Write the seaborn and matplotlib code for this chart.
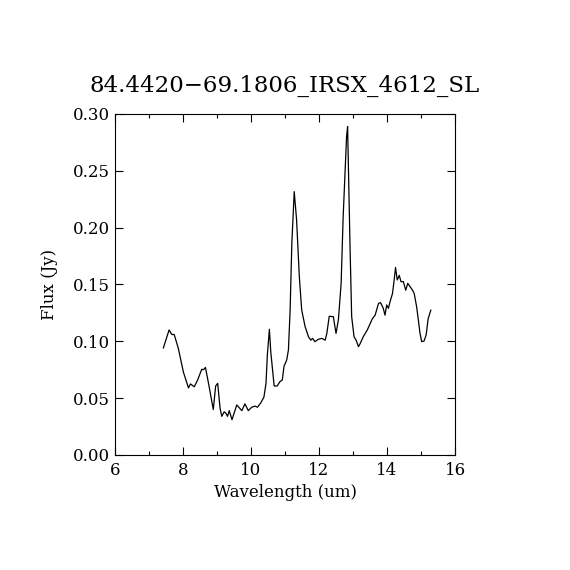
import matplotlib
matplotlib.use("Agg")
import matplotlib.pyplot as plt
from matplotlib.ticker import MultipleLocator
import seaborn as sns
import pandas as pd

title = "84.4420\u221269.1806_IRSX_4612_SL"
x_label = "Wavelength (um)"
y_label = "Flux (Jy)"

wavelength = [7.42, 7.59, 7.67, 7.74, 7.86, 8.01, 8.16, 8.22, 8.33, 8.43, 8.55, 8.60, 8.66,
              8.75, 8.89, 8.96, 9.02, 9.09, 9.14, 9.21, 9.26, 9.31, 9.36, 9.44, 9.58, 9.73,
              9.82, 9.92, 10.02, 10.12, 10.19, 10.29, 10.38, 10.44, 10.48, 10.54, 10.58,
              10.68, 10.77, 10.85, 10.92, 10.97, 11.05, 11.10, 11.15, 11.20, 11.27, 11.34,
              11.42, 11.49, 11.59, 11.69, 11.76, 11.81, 11.88, 11.98, 12.08, 12.18, 12.23,
              12.30, 12.42, 12.50, 12.57, 12.65, 12.71, 12.76, 12.81, 12.84, 12.86, 12.91,
              12.96, 13.03, 13.09, 13.16, 13.21, 13.30, 13.42, 13.57, 13.65, 13.75, 13.81,
              13.89, 13.94, 13.99, 14.04, 14.09, 14.16, 14.21, 14.25, 14.30, 14.36, 14.41,
              14.48, 14.55, 14.61, 14.68, 14.75, 14.80, 14.87, 14.92, 14.97, 15.02, 15.09,
              15.15, 15.21, 15.29]
flux = [0.094, 0.110, 0.106, 0.106, 0.094, 0.073, 0.059, 0.0625, 0.060, 0.066, 0.0754, 0.075,
        0.077, 0.063, 0.040, 0.0607, 0.063, 0.041, 0.034, 0.038, 0.0367, 0.034, 0.039, 0.031,
        0.044, 0.039, 0.045, 0.039, 0.042, 0.043, 0.042, 0.046, 0.051, 0.063, 0.088, 0.1106,
        0.091, 0.0607, 0.0607, 0.0645, 0.066, 0.078, 0.0836, 0.0924, 0.1276, 0.186, 0.2317,
        0.207, 0.157, 0.1276, 0.113, 0.104, 0.101, 0.1026, 0.0997, 0.1018, 0.1026, 0.101,
        0.107, 0.122, 0.1217, 0.107, 0.119, 0.151, 0.2097, 0.245, 0.280, 0.289, 0.2595,
        0.186, 0.1217, 0.104, 0.101, 0.0953, 0.098, 0.104, 0.110, 0.120, 0.123, 0.1334,
        0.134, 0.129, 0.123, 0.132, 0.129, 0.135, 0.142, 0.154, 0.165, 0.154, 0.158, 0.1525,
        0.1525, 0.145, 0.151, 0.148, 0.145, 0.142, 0.1305, 0.119, 0.107, 0.0997, 0.1003,
        0.1056, 0.120, 0.1276]

sns.set_style("ticks")
plt.rcParams['font.family'] = ['DejaVu Serif']
plt.rcParams['text.color'] = 'black'
plt.rcParams['axes.labelcolor'] = 'black'

df = pd.DataFrame({"wavelength": wavelength, "flux": flux})

fig = plt.figure(figsize=(5.7, 5.7), dpi=100)
ax = fig.add_axes([0.2018, 0.2018, 0.5965, 0.5982])
sns.lineplot(data=df, x="wavelength", y="flux", ax=ax, color="black", linewidth=0.9,
             sort=False, estimator=None)

ax.set_xlim(6, 16)
ax.set_ylim(0, 0.30)
ax.xaxis.set_major_locator(MultipleLocator(2))
ax.xaxis.set_minor_locator(MultipleLocator(1))
ax.yaxis.set_major_locator(MultipleLocator(0.05))
ax.xaxis.set_major_formatter(matplotlib.ticker.FormatStrFormatter("%d"))
ax.yaxis.set_major_formatter(matplotlib.ticker.FormatStrFormatter("%.2f"))
ax.tick_params(which="both", direction="in", top=True, right=True, colors="black",
               labelsize=12, width=0.8)
ax.tick_params(which="major", length=6)
ax.tick_params(which="minor", length=3)
ax.tick_params(axis="x", pad=5)
for s in ax.spines.values():
    s.set_color("black")
    s.set_linewidth(0.8)

ax.set_xlabel(x_label, fontsize=12, labelpad=4, color="black")
ax.set_ylabel(y_label, fontsize=12, labelpad=11, color="black")
ax.set_title(title, fontsize=16.5, pad=16, color="black")

fig.savefig("out.png", dpi=100, facecolor="white")
